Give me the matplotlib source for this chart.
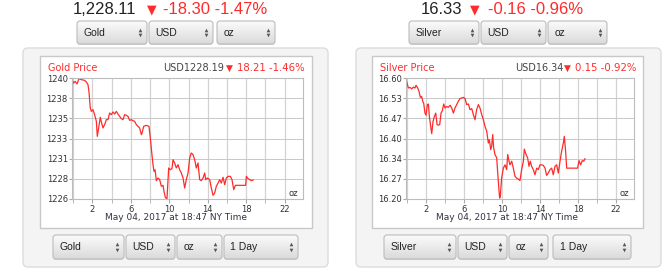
import numpy as np
import matplotlib
matplotlib.use("Agg")
import matplotlib.pyplot as plt
from matplotlib.patches import FancyBboxPatch, Rectangle
from matplotlib.colors import LinearSegmentedColormap

# --- data (hours since midnight, USD/oz) ---
gold_hours = [-0.11, 0.06, 0.23, 0.41, 0.61, 0.86, 1.20, 1.38, 1.55, 1.65, 1.79, 1.90,
              2.07, 2.24, 2.42, 2.52, 2.66, 2.83, 2.97, 3.11, 3.28, 3.46, 3.63, 3.80,
              3.98, 4.15, 4.32, 4.50, 4.67, 4.84, 5.02, 5.19, 5.36, 5.54, 5.71, 5.88,
              6.06, 6.23, 6.40, 6.58, 6.75, 6.92, 7.10, 7.20, 7.34, 7.62, 7.89, 8.03,
              8.20, 8.31, 8.41, 8.52, 8.66, 8.83, 9.00, 9.18, 9.35, 9.45, 9.59, 9.76,
              9.94, 10.11, 10.28, 10.39, 10.56, 10.73, 10.91, 11.08, 11.25, 11.43, 11.60,
              11.77, 11.95, 12.12, 12.29, 12.47, 12.64, 12.81, 12.99, 13.16, 13.33, 13.51,
              13.68, 13.79, 13.96, 14.20, 14.37, 14.55, 14.72, 14.89, 15.07, 15.24, 15.41,
              15.59, 15.76, 15.93, 16.11, 16.35, 16.52, 16.70, 16.87, 17.32, 17.94, 18.01,
              18.19, 18.36, 18.53, 18.71]
gold_prices = [1239.81, 1239.42, 1239.61, 1239.31, 1239.92, 1239.81, 1239.73, 1239.54,
               1239.23, 1238.46, 1236.53, 1236.14, 1236.34, 1235.76, 1234.99, 1233.25,
               1234.22, 1235.45, 1234.79, 1234.22, 1234.60, 1235.18, 1235.18, 1235.95,
               1235.76, 1236.07, 1235.83, 1236.14, 1235.83, 1235.56, 1235.29, 1235.18,
               1235.76, 1235.68, 1235.56, 1235.10, 1235.18, 1235.06, 1234.99, 1234.60,
               1234.41, 1234.22, 1233.44, 1233.75, 1234.41, 1234.52, 1234.41, 1233.06,
               1231.13, 1229.97, 1229.20, 1229.39, 1228.12, 1228.43, 1228.24, 1227.47,
               1227.58, 1226.89, 1226.19, 1226.00, 1229.59, 1229.39, 1229.51, 1230.55,
               1230.17, 1229.59, 1229.97, 1229.39, 1229.01, 1228.43, 1227.27, 1228.24,
               1229.01, 1230.74, 1231.32, 1231.13, 1230.55, 1229.59, 1230.17, 1228.24,
               1228.12, 1228.43, 1229.01, 1228.24, 1228.43, 1228.24, 1227.27, 1226.42,
               1226.69, 1227.47, 1227.85, 1228.24, 1227.85, 1228.51, 1227.66, 1228.43,
               1228.62, 1228.62, 1228.24, 1227.08, 1227.58, 1227.58, 1227.58, 1228.62,
               1228.35, 1228.24, 1228.12, 1228.20]

silver_hours = [-0.11, 0.00, 0.14, 0.32, 0.49, 0.67, 0.84, 0.95, 1.12, 1.26, 1.40, 1.54,
                1.65, 1.75, 1.89, 2.00, 2.14, 2.25, 2.35, 2.49, 2.60, 2.74, 2.88, 3.02,
                3.16, 3.30, 3.44, 3.58, 3.72, 3.86, 4.00, 4.18, 4.35, 4.53, 4.70, 4.88,
                5.05, 5.23, 5.40, 5.58, 5.75, 5.93, 6.11, 6.28, 6.46, 6.63, 6.81, 6.98,
                7.16, 7.33, 7.51, 7.68, 7.86, 8.04, 8.21, 8.39, 8.56, 8.67, 8.81, 8.91,
                9.02, 9.12, 9.26, 9.44, 9.61, 9.75, 9.82, 9.96, 10.14, 10.32, 10.49, 10.60,
                10.74, 10.84, 11.02, 11.19, 11.37, 11.54, 11.72, 11.89, 12.07, 12.25, 12.35,
                12.53, 12.70, 12.84, 12.98, 13.12, 13.30, 13.47, 13.65, 13.82, 14.00, 14.18,
                14.35, 14.53, 14.70, 14.88, 15.05, 15.23, 15.40, 15.58, 15.75, 15.93, 16.11,
                16.28, 16.46, 16.56, 16.70, 16.81, 16.98, 17.33, 17.68, 17.96, 18.11, 18.28,
                18.46, 18.60, 18.74]
silver_prices = [16.598, 16.583, 16.567, 16.569, 16.564, 16.570, 16.567, 16.576, 16.567,
                 16.556, 16.536, 16.539, 16.523, 16.517, 16.484, 16.477, 16.512, 16.514,
                 16.473, 16.440, 16.416, 16.457, 16.473, 16.484, 16.446, 16.444, 16.446,
                 16.484, 16.492, 16.514, 16.501, 16.506, 16.503, 16.510, 16.501, 16.484,
                 16.501, 16.512, 16.523, 16.532, 16.534, 16.536, 16.532, 16.512, 16.514,
                 16.495, 16.499, 16.479, 16.462, 16.495, 16.512, 16.501, 16.479, 16.462,
                 16.440, 16.424, 16.385, 16.396, 16.363, 16.374, 16.413, 16.369, 16.347,
                 16.336, 16.258, 16.203, 16.209, 16.269, 16.302, 16.313, 16.297, 16.347,
                 16.325, 16.313, 16.325, 16.302, 16.275, 16.269, 16.266, 16.261, 16.297,
                 16.325, 16.365, 16.347, 16.336, 16.308, 16.325, 16.308, 16.297, 16.280,
                 16.302, 16.297, 16.313, 16.313, 16.311, 16.302, 16.278, 16.286, 16.297,
                 16.302, 16.280, 16.308, 16.313, 16.286, 16.325, 16.358, 16.385, 16.407,
                 16.358, 16.302, 16.302, 16.302, 16.302, 16.302, 16.327, 16.313, 16.327,
                 16.325, 16.333]

gold_ylabels = ["1226", "1228", "1231", "1233", "1235", "1238", "1240"]
silver_ylabels = ["16.20", "16.27", "16.34", "16.40", "16.47", "16.53", "16.60"]
hour_labels = [2, 6, 10, 14, 18, 22]
hour_grid = [0, 4, 8, 12, 16, 20]

RED = "#ff2b2b"
W, H = 669, 272

fig = plt.figure(figsize=(W / 100, H / 100), dpi=100)
bg = fig.add_axes([0, 0, 1, 1])
bg.axis("off")

grad_cmap = LinearSegmentedColormap.from_list("sel", ["#fbfbfb", "#dadada"])
gradient = np.linspace(0, 1, 40).reshape(-1, 1)


def select_box(x0, x1, y0, y1, label):
    shadow = FancyBboxPatch((x0, y0 + 1), x1 - x0, y1 - y0,
                            boxstyle="round,pad=0,rounding_size=3",
                            fc="#d6d6d6", ec="none", zorder=1.5)
    bg.add_patch(shadow)
    box = FancyBboxPatch((x0, y0), x1 - x0, y1 - y0,
                         boxstyle="round,pad=0,rounding_size=3",
                         fc="none", ec="#bcbcbc", lw=0.8, zorder=3)
    bg.add_patch(box)
    im = bg.imshow(gradient, extent=(x0, x1, y1, y0), cmap=grad_cmap,
                   aspect="auto", zorder=2, interpolation="bilinear")
    im.set_clip_path(box)
    yc = (y0 + y1) / 2
    bg.text(x0 + 6.5, yc + 0.5, label, ha="left", va="center", fontsize=7.5,
            family="Liberation Sans", color="#222222", zorder=4)
    bg.plot([x1 - 7.5], [yc - 2.6], marker="^", ms=2.6, color="#555555",
            mec="none", zorder=4)
    bg.plot([x1 - 7.5], [yc + 2.6], marker="v", ms=2.6, color="#555555",
            mec="none", zorder=4)


def price_panel(px0, frame_x0, frame_x1):
    panel = FancyBboxPatch((px0, 48), 305, 219, boxstyle="round,pad=0,rounding_size=5",
                           fc="#f4f4f4", ec="#dcdcdc", lw=1, zorder=0.5)
    bg.add_patch(panel)
    bg.add_patch(Rectangle((frame_x0, 56), frame_x1 - frame_x0, 172,
                           fc="white", ec="#c8c8c8", lw=1, zorder=1))


def draw_chart(rect, hours, prices, ylabels):
    l, r, t, b = rect
    ax = fig.add_axes([l / W, 1 - b / H, (r - l) / W, (b - t) / H])
    ax.plot(hours, prices, color=RED, lw=0.9)
    ax.set_xlim(-0.11, 23.9)
    ylo, yhi = float(ylabels[0]), float(ylabels[-1])
    ax.set_ylim(ylo, yhi)
    ax.set_yticks(np.linspace(ylo, yhi, len(ylabels)))
    ax.set_yticklabels(ylabels)
    ax.set_xticks(hour_labels)
    ax.set_xticks(hour_grid, minor=True)
    ax.grid(True, which="both", axis="x", color="#d2d2d2", lw=0.9)
    ax.grid(True, which="major", axis="y", color="#c8c8c8", lw=0.7)
    ax.tick_params(axis="both", which="both", direction="out", colors="#aaaaaa",
                   labelcolor="#333333", labelsize=6)
    ax.tick_params(axis="x", which="both", length=3, pad=1.5)
    ax.tick_params(axis="y", length=2, pad=1)
    for s in ax.spines.values():
        s.set_color("#bcbcbc")
        s.set_linewidth(0.8)
    ax.text(0.978, 0.045, "oz", transform=ax.transAxes, ha="right", va="center",
            fontsize=6, color="#333333")
    return ax


# ---------------- gold ----------------
price_panel(23, 40, 312)
bg.text(73, 10, "1,228.11", ha="left", va="center", fontsize=12,
        family="Liberation Sans", color="#222222")
bg.text(147, 10, "\u25bc", ha="left", va="center", fontsize=9, color=RED)
bg.text(163, 10, "-18.30 -1.47%", ha="left", va="center", fontsize=12,
        family="Liberation Sans", color=RED)
select_box(77, 147, 21, 44, "Gold")
select_box(149, 213, 21, 44, "USD")
select_box(217, 275, 21, 44, "oz")

bg.text(48, 68, "Gold Price", ha="left", va="center", fontsize=7, color=RED)
bg.text(163, 68, "USD1228.19", ha="left", va="center", fontsize=7, color="#444444")
bg.text(226, 68.5, "\u25bc", ha="left", va="center", fontsize=6.5, color=RED)
bg.text(305, 68, "18.21 -1.46%", ha="right", va="center", fontsize=7.3, color=RED)
draw_chart((72, 303, 78, 199), gold_hours, gold_prices, gold_ylabels)
bg.text(176, 218, "May 04, 2017 at 18:47 NY Time", ha="center", va="center",
        fontsize=6.5, color="#333344")
select_box(53, 124, 235, 259, "Gold")
select_box(126, 175, 235, 259, "USD")
select_box(177, 222, 235, 259, "oz")
select_box(224, 298, 235, 259, "1 Day")

# ---------------- silver ----------------
price_panel(356, 372, 643)
bg.text(421, 10, "16.33", ha="left", va="center", fontsize=12,
        family="Liberation Sans", color="#222222")
bg.text(470, 10, "\u25bc", ha="left", va="center", fontsize=9, color=RED)
bg.text(488, 10, "-0.16 -0.96%", ha="left", va="center", fontsize=12,
        family="Liberation Sans", color=RED)
select_box(409, 479, 21, 44, "Silver")
select_box(481, 546, 21, 44, "USD")
select_box(548, 607, 21, 44, "oz")

bg.text(380, 68, "Silver Price", ha="left", va="center", fontsize=7, color=RED)
bg.text(515, 68, "USD16.34", ha="left", va="center", fontsize=7, color="#444444")
bg.text(564, 68.5, "\u25bc", ha="left", va="center", fontsize=6.5, color=RED)
bg.text(636, 68, "0.15 -0.92%", ha="right", va="center", fontsize=7.3, color=RED)
draw_chart((406, 634, 78, 199), silver_hours, silver_prices, silver_ylabels)
bg.text(507, 218, "May 04, 2017 at 18:47 NY Time", ha="center", va="center",
        fontsize=6.5, color="#333344")
select_box(384, 456, 235, 259, "Silver")
select_box(458, 507, 235, 259, "USD")
select_box(509, 548, 235, 259, "oz")
select_box(553, 631, 235, 259, "1 Day")

bg.set_xlim(0, W)
bg.set_ylim(H, 0)

fig.savefig("out.png", dpi=100)
